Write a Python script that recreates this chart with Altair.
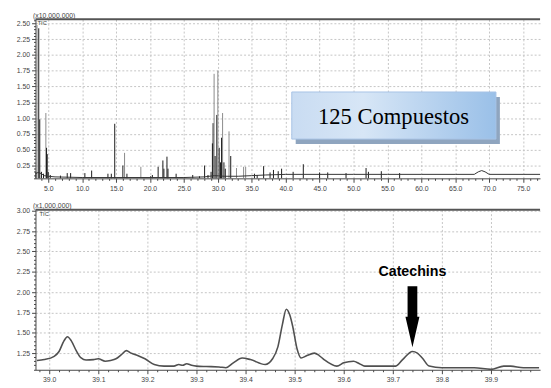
import altair as alt
import pandas as pd

# ---------------- data ----------------
# Upper chromatogram (TIC, x10,000,000), retention time in min
base_time = [3.13, 3.5, 4.0, 4.4, 5.0, 6.0, 10.0, 15.0, 20.0, 25.0, 28.0, 29.5, 31.0,
             33.0, 35.0, 37.0, 40.0, 45.0, 50.0, 55.0, 60.0, 65.0, 67.8, 68.4, 68.9,
             69.4, 70.0, 75.0, 77.5]
base_int = [0.12, 0.14, 0.12, 0.09, 0.08, 0.07, 0.06, 0.06, 0.06, 0.06, 0.07, 0.09, 0.08,
            0.08, 0.09, 0.10, 0.11, 0.11, 0.11, 0.11, 0.11, 0.11, 0.11, 0.15, 0.17,
            0.15, 0.11, 0.11, 0.11]

peak_time = [3.2, 3.35, 3.6, 3.75, 4.0, 4.3, 4.65, 4.75, 4.85, 5.0, 5.3, 6.8, 7.8, 8.3,
             10.4, 11.4, 13.8, 14.3, 14.8, 16.0, 16.25, 16.6, 18.65, 20.1, 20.35, 21.2,
             21.9, 22.05, 22.5, 22.65, 23.85, 26.3, 27.3, 28.05, 28.55, 29.0, 29.2, 29.3,
             29.45, 29.6, 29.85, 30.0, 30.2, 30.4, 30.55, 30.7, 30.9, 31.1, 31.65, 31.9,
             32.75, 33.8, 34.1, 35.4, 35.8, 36.75, 37.7, 38.2, 38.9, 39.4, 41.1, 42.6,
             45.0, 46.2, 48.9, 51.85, 52.2, 54.1, 56.8]
peak_int = [0.15, 2.47, 2.42, 0.98, 0.15, 0.12, 1.08, 0.53, 0.43, 0.15, 0.10, 0.09, 0.13, 0.13,
            0.13, 0.17, 0.12, 0.12, 0.91, 0.25, 0.45, 0.12, 0.23, 0.08, 0.10, 0.23,
            0.33, 0.20, 0.39, 0.20, 0.12, 0.10, 0.08, 0.25, 0.10, 0.15, 0.60, 0.92,
            1.70, 0.40, 1.05, 1.75, 0.53, 0.30, 0.69, 1.08, 0.30, 0.20, 0.79, 0.40,
            0.21, 0.23, 0.23, 0.12, 0.10, 0.24, 0.14, 0.18, 0.16, 0.20, 0.15, 0.27,
            0.14, 0.14, 0.13, 0.21, 0.15, 0.16, 0.13]
peak_shade = ["k", "g", "k", "k", "k", "k", "g", "k", "k", "k", "k", "k", "k", "k",
              "k", "k", "k", "k", "k", "k", "g", "k", "g", "k", "k", "k",
              "k", "k", "k", "k", "k", "k", "k", "k", "k", "k", "k", "k",
              "g", "k", "k", "g", "k", "k", "k", "g", "k", "k", "g", "k",
              "g", "g", "g", "k", "k", "k", "k", "k", "k", "k", "k", "k",
              "k", "k", "k", "k", "k", "k", "k"]

# Lower chromatogram (TIC, x1,000,000), 39.0 - 40.0 min
zoom_time = [38.975, 38.99, 39.01, 39.02, 39.03, 39.037, 39.045, 39.055, 39.065, 39.075,
             39.09, 39.10, 39.114, 39.125, 39.136, 39.147, 39.157, 39.167, 39.18, 39.195,
             39.214, 39.234, 39.254, 39.264, 39.272, 39.28, 39.29, 39.30, 39.32, 39.346,
             39.36, 39.375, 39.393, 39.41, 39.44, 39.455, 39.466, 39.475, 39.483, 39.49,
             39.496, 39.505, 39.513, 39.525, 39.54, 39.55, 39.56, 39.586, 39.60, 39.62,
             39.632, 39.643, 39.68, 39.706, 39.72, 39.74, 39.75, 39.76, 39.774, 39.80,
             39.866, 39.90, 39.926, 39.94, 39.966, 39.998]
zoom_int = [1.16, 1.17, 1.21, 1.27, 1.40, 1.45, 1.40, 1.28, 1.19, 1.165,
            1.17, 1.18, 1.15, 1.16, 1.18, 1.23, 1.28, 1.25, 1.22, 1.18,
            1.11, 1.09, 1.09, 1.11, 1.10, 1.12, 1.10, 1.09, 1.085, 1.08,
            1.07, 1.13, 1.19, 1.17, 1.11, 1.18, 1.33, 1.60, 1.79, 1.72,
            1.58, 1.30, 1.19, 1.22, 1.25, 1.22, 1.17, 1.09, 1.13, 1.15,
            1.12, 1.09, 1.09, 1.09, 1.17, 1.27, 1.25, 1.19, 1.09, 1.07,
            1.07, 1.05, 1.09, 1.09, 1.07, 1.07]

# annotations (data units)
box_text = "125 Compuestos"
box_t = [40.9, 71.0]
box_v = [0.668, 1.413]
box_text_pos = [55.9, 0.90]
cat_text = "Catechins"
cat_t = 39.74
cat_text_v = 2.252
cat_arrow_v = 1.697

# axis ticks
top_x_ticks = list(range(4, 78))
top_y_ticks = [round(0.05 * i, 2) for i in range(1, 52)]
bot_x_ticks = [round(38.98 + 0.02 * i, 2) for i in range(0, 51)]
bot_y_ticks = [round(1.05 + 0.05 * i, 2) for i in range(0, 40)]

# ---------------- layout ----------------
W = 514
TOP_H = 162
BOT_H = 163
top_xdom = [3.12, 77.5]
top_ydom = [0.047, 2.562]
bot_xdom = [38.972, 40.0]
bot_ydom = [1.045, 3.012]

LABEL_FONT = "Liberation Sans"
AX_COL = "#444444"


def make_axis(values, test, fmt, minor_size=2, major_size=4, **kw):
    return alt.Axis(
        values=values,
        labelExpr=f"({test}) ? format(datum.value, '{fmt}') : ''",
        labelOverlap=False,
        gridOpacity=alt.condition(test, alt.value(1), alt.value(0)),
        tickSize=alt.condition(test, alt.value(major_size), alt.value(minor_size)),
        **kw,
    )


t5 = "abs(datum.value/5 - round(datum.value/5)) < 1e-6"
q4 = "abs(datum.value*4 - round(datum.value*4)) < 1e-6"
d10 = "abs(datum.value*10 - round(datum.value*10)) < 1e-6"

top_xaxis = make_axis(top_x_ticks, t5, ".1f", title=None)
top_yaxis = make_axis(top_y_ticks, q4, ".2f", title="(x10,000,000)", titleAngle=0,
                      titleAlign="left", titleBaseline="bottom", titleX=-3, titleY=-1,
                      titleFontSize=7, titleFontWeight="normal", titleColor=AX_COL,
                      titleFont=LABEL_FONT, minExtent=28)
bot_xaxis = make_axis([v for v in bot_x_ticks if v < 39.999], d10, ".1f", title=None)
bot_yaxis = make_axis(bot_y_ticks, q4, ".2f", title="(x1,000,000)", titleAngle=0,
                      titleAlign="left", titleBaseline="bottom", titleX=-3, titleY=-1,
                      titleFontSize=7, titleFontWeight="normal", titleColor=AX_COL,
                      titleFont=LABEL_FONT, minExtent=28)


def tx(field="t"):
    return alt.X(f"{field}:Q", scale=alt.Scale(domain=top_xdom, nice=False, zero=False),
                 axis=top_xaxis)


def ty(field="v"):
    return alt.Y(f"{field}:Q", scale=alt.Scale(domain=top_ydom, nice=False, zero=False),
                 axis=top_yaxis)


def bx(field="t"):
    return alt.X(f"{field}:Q", scale=alt.Scale(domain=bot_xdom, nice=False, zero=False),
                 axis=bot_xaxis)


def by(field="v"):
    return alt.Y(f"{field}:Q", scale=alt.Scale(domain=bot_ydom, nice=False, zero=False),
                 axis=bot_yaxis)


one = pd.DataFrame({"k": [0]})

# ---------------- top panel ----------------
base_df = pd.DataFrame({"t": base_time, "v": base_int})
peak_df = pd.DataFrame({"t": peak_time, "v": peak_int, "shade": peak_shade})
box_df = pd.DataFrame({"t": [box_t[0]], "t2": [box_t[1]], "v": [box_v[1]], "v2": [box_v[0]]})
boxtxt_df = pd.DataFrame({"t": [box_text_pos[0]], "v": [box_text_pos[1]], "label": [box_text]})

top_frame = alt.Chart(one).mark_rule(color="#555555", strokeWidth=2).encode(y=alt.value(0))
top_base = alt.Chart(base_df).mark_line(color="#333333", strokeWidth=1).encode(x=tx(), y=ty())
top_peaks = alt.Chart(peak_df).mark_rule(strokeWidth=1).encode(
    x=tx(), y=ty(), y2=alt.datum(0.05),
    color=alt.Color("shade:N", scale=alt.Scale(domain=["g", "k"], range=["#8a8a8a", "#1a1a1a"]),
                    legend=None),
)
box_shadow = alt.Chart(box_df).mark_rect(
    fill="#8fa5bf", xOffset=4, x2Offset=4, yOffset=5, y2Offset=5
).encode(x=tx(), x2="t2", y=ty(), y2="v2")
box = alt.Chart(box_df).mark_rect(
    fill={"gradient": "linear", "x1": 0, "y1": 0, "x2": 1, "y2": 0,
          "stops": [{"offset": 0, "color": "#c9dcf2"},
                    {"offset": 0.35, "color": "#d7e6f6"},
                    {"offset": 1, "color": "#9ac0e8"}]},
    stroke="#a7c3e6", strokeWidth=1,
).encode(x=tx(), x2="t2", y=ty(), y2="v2")
box_label = alt.Chart(boxtxt_df).mark_text(
    font="Liberation Serif", fontSize=23, color="#000000", align="center", baseline="alphabetic"
).encode(x=tx(), y=ty(), text="label:N")
top_tic = alt.Chart(one).mark_text(
    text="TIC", font=LABEL_FONT, fontSize=6, color=AX_COL, align="left", baseline="top"
).encode(x=alt.value(2), y=alt.value(1))

top = alt.layer(top_peaks, top_base, box_shadow, box, box_label, top_tic, top_frame).properties(
    width=W, height=TOP_H)

# ---------------- bottom panel ----------------
zoom_df = pd.DataFrame({"t": zoom_time, "v": zoom_int})
cat_df = pd.DataFrame({"t": [cat_t], "v": [cat_text_v], "label": [cat_text]})
arrow_df = pd.DataFrame({"t": [cat_t], "v": [cat_arrow_v]})

ARROW = "M-0.16,-1L0.16,-1L0.16,0L0.23,0L0,1L-0.23,0L-0.16,0Z"

bot_frame = alt.Chart(one).mark_rule(color="#555555", strokeWidth=2).encode(y=alt.value(0))
bot_line = alt.Chart(zoom_df).mark_line(
    color="#505050", strokeWidth=1.6, interpolate="monotone"
).encode(x=bx(), y=by())
cat_label = alt.Chart(cat_df).mark_text(
    font=LABEL_FONT, fontSize=14.5, fontWeight="bold", color="#000000",
    align="center", baseline="middle"
).encode(x=bx(), y=by(), text="label:N")
cat_arrow = alt.Chart(arrow_df).mark_point(
    shape=ARROW, size=3844, filled=True, color="#000000", opacity=1, strokeWidth=0
).encode(x=bx(), y=by())
bot_tic = alt.Chart(one).mark_text(
    text="TIC", font=LABEL_FONT, fontSize=6, color=AX_COL, align="left", baseline="top"
).encode(x=alt.value(4), y=alt.value(1))

bottom = alt.layer(bot_line, cat_arrow, cat_label, bot_tic, bot_frame).properties(
    width=W, height=BOT_H)

chart = alt.vconcat(top, bottom, spacing=11).properties(padding=0).configure_view(
    stroke=None
).configure_axis(
    domainColor=AX_COL, tickColor=AX_COL, labelColor=AX_COL, labelFont=LABEL_FONT,
    labelFontSize=7, labelPadding=2, gridColor="#c4c4c4", gridDash=[2, 2], gridWidth=1,
    domainWidth=1,
)

chart.save("out.html", embed_options={"renderer": "svg", "actions": False})
